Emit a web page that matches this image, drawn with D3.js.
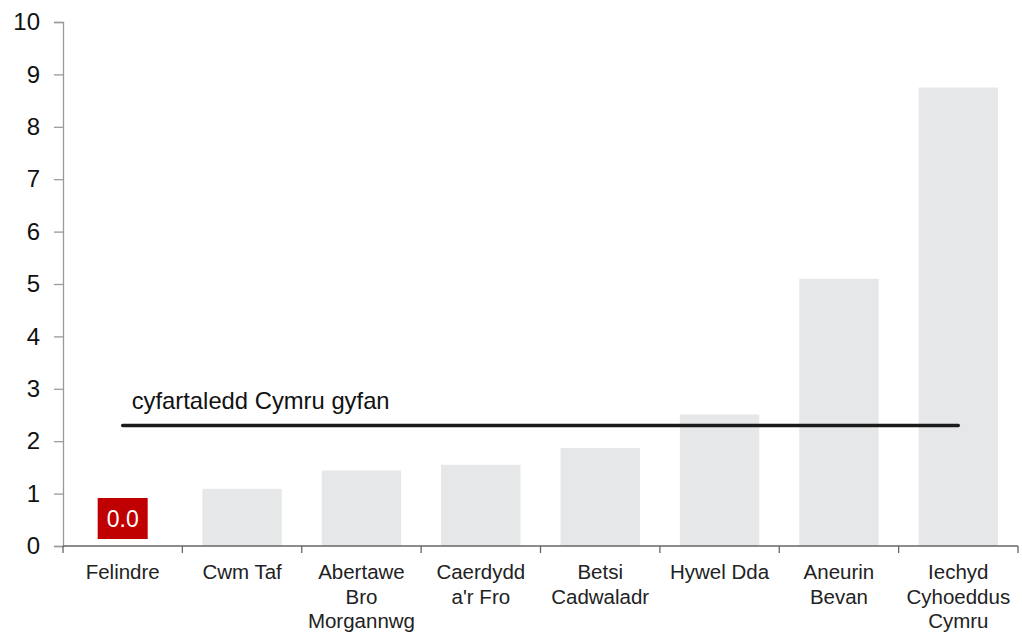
<!DOCTYPE html>
<html>
<head>
<meta charset="utf-8">
<script src="https://cdn.jsdelivr.net/npm/d3@7"></script>
<style>
  html, body { margin: 0; padding: 0; background: #fff; }
  svg { display: block; font-family: "Liberation Sans", Arial, sans-serif; }
</style>
</head>
<body>
<svg id="chart" width="1022" height="634"></svg>
<script>
const categories = ["Felindre", "Cwm Taf", "Abertawe|Bro|Morgannwg", "Caerdydd|a'r Fro", "Betsi|Cadwaladr", "Hywel Dda", "Aneurin|Bevan", "Iechyd|Cyhoeddus|Cymru"];
const values = [0.0, 1.09, 1.44, 1.55, 1.87, 2.51, 5.10, 8.75];
const highlight = [true, false, false, false, false, false, false, false];
const walesAverage = 2.30;
const averageLabel = "cyfartaledd Cymru gyfan";
const yTicks = [0, 1, 2, 3, 4, 5, 6, 7, 8, 9, 10];

(function () {
const svg = d3.select("#chart");
const mLeft = 63, mRight = 1018, mTop = 22, mBottom = 546;

const xSlot = d3.scaleBand().domain(categories).range([mLeft, mRight]).padding(0);
const x = d3.scaleBand().domain(categories).range([mLeft, mRight]).paddingInner(0.335).paddingOuter(0.1675);
const y = d3.scaleLinear().domain([0, 10]).range([mBottom, mTop]);

const rows = categories.map((c, i) => ({c, v: values[i], h: highlight[i]}));

// bars
svg.append("g").selectAll("rect")
  .data(rows)
  .join("rect")
  .attr("x", d => x(d.c))
  .attr("y", d => y(d.v))
  .attr("width", x.bandwidth())
  .attr("height", d => y(0) - y(d.v))
  .attr("fill", "#E6E7E8");

// y axis
const yAxis = svg.append("g").attr("transform", `translate(${mLeft},0)`)
  .call(d3.axisLeft(y).tickValues(yTicks).tickSize(9).tickPadding(14).tickFormat(d3.format("d")));
yAxis.select(".domain").attr("stroke", "#9a9a9a").attr("stroke-width", 1.3);
yAxis.selectAll(".tick line").attr("stroke", "#9a9a9a").attr("stroke-width", 1.3);
yAxis.selectAll(".tick text").attr("font-size", 24).attr("fill", "#111").attr("font-family", "Liberation Sans, Arial, sans-serif");

// x axis line and ticks
const xg = svg.append("g");
xg.append("line").attr("x1", mLeft).attr("x2", mRight).attr("y1", y(0)).attr("y2", y(0))
  .attr("stroke", "#666").attr("stroke-width", 1.3);
const boundaries = categories.map(c => xSlot(c)).concat([mRight]);
xg.selectAll("line.tk").data(boundaries).join("line").attr("class", "tk")
  .attr("x1", d => d).attr("x2", d => d).attr("y1", y(0)).attr("y2", y(0) + 7)
  .attr("stroke", "#666").attr("stroke-width", 1.3);

// category labels
const lab = xg.selectAll("text.cat").data(categories).join("text").attr("class", "cat")
  .attr("text-anchor", "middle")
  .attr("font-size", 20.5)
  .attr("fill", "#222")
  .attr("transform", d => `translate(${xSlot(d) + xSlot.bandwidth() / 2},579)`);
lab.selectAll("tspan").data(d => d.split("|")).join("tspan")
  .attr("x", 0).attr("y", (d, i) => i * 24.5).text(d => d);

// average line
const first = categories[0], last = categories[categories.length - 1];
const x1 = xSlot(first) + xSlot.bandwidth() / 2;
const x2 = xSlot(last) + xSlot.bandwidth() / 2;
svg.append("line").attr("x1", x1).attr("x2", x2).attr("y1", y(walesAverage)).attr("y2", y(walesAverage))
  .attr("stroke", "#1a1a1a").attr("stroke-width", 3.4).attr("stroke-linecap", "round");
svg.append("text").attr("x", x1 + 9).attr("y", y(walesAverage) - 16)
  .attr("font-size", 23.8).attr("fill", "#111").text(averageLabel);

// highlighted data label
const fmt = d3.format(".1f");
const hl = svg.append("g").selectAll("g")
  .data(rows.filter(d => d.h))
  .join("g")
  .attr("transform", d => `translate(${x(d.c) + x.bandwidth() / 2},${y(d.v)})`);
hl.append("rect").attr("x", -25).attr("y", -48).attr("width", 50).attr("height", 41).attr("fill", "#C00000");
hl.append("text").attr("text-anchor", "middle").attr("y", -19.5).attr("font-size", 23)
  .attr("fill", "#fff").text(d => fmt(d.v));
})();
</script>
</body>
</html>
